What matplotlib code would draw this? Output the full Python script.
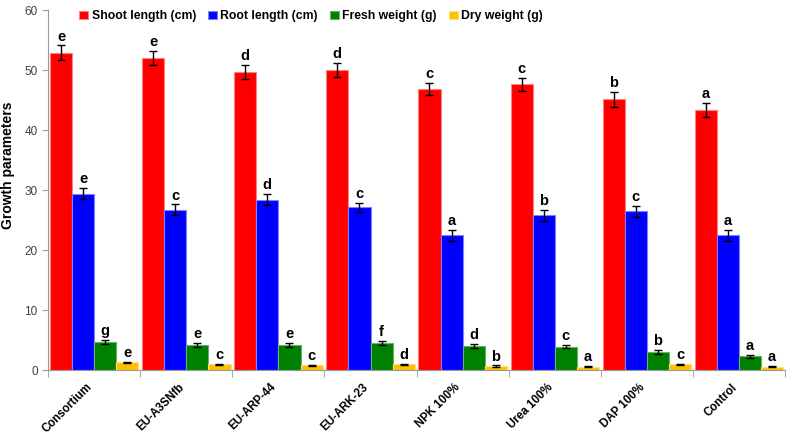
import numpy as np
import matplotlib
matplotlib.use("Agg")
import matplotlib.pyplot as plt
from matplotlib.transforms import ScaledTranslation

plt.rcParams['font.family'] = ['Liberation Sans', 'DejaVu Sans']

treatments = ["Consortium", "EU-A3SNfb", "EU-ARP-44", "EU-ARK-23",
              "NPK 100%", "Urea 100%", "DAP 100%", "Control"]
series = ["Shoot length (cm)", "Root length (cm)", "Fresh weight (g)", "Dry weight (g)"]

shoot = [52.9, 52.0, 49.7, 50.0, 46.8, 47.6, 45.1, 43.3]
root = [29.4, 26.7, 28.4, 27.1, 22.5, 25.8, 26.5, 22.5]
fresh = [4.7, 4.2, 4.2, 4.5, 4.05, 3.9, 3.05, 2.3]
dry = [1.3, 1.0, 0.8, 1.0, 0.7, 0.55, 1.0, 0.55]

shoot_err = [1.2, 1.2, 1.2, 1.2, 1.0, 1.1, 1.2, 1.2]
root_err = [0.9, 0.9, 0.9, 0.8, 0.9, 0.9, 0.9, 0.9]
fresh_err = [0.4, 0.3, 0.3, 0.35, 0.3, 0.25, 0.3, 0.25]
dry_err = [0.1, 0.1, 0.1, 0.1, 0.1, 0.1, 0.1, 0.1]

shoot_let = ["e", "e", "d", "d", "c", "c", "b", "a"]
root_let = ["e", "c", "d", "c", "a", "b", "c", "a"]
fresh_let = ["g", "e", "e", "f", "d", "c", "b", "a"]
dry_let = ["e", "c", "c", "d", "b", "a", "c", "a"]

colors = ["#ff0000", "#0000ff", "#008000", "#ffc000"]
edges = ["#ff8080", "#8080ff", "#66b366", "#ffe080"]

fig = plt.figure(figsize=(7.89, 4.37), dpi=100)
ax = fig.add_axes([0.061, 0.153, 0.934, 0.824])

x = np.arange(len(treatments))
w = 0.24
data = [shoot, root, fresh, dry]
errs = [shoot_err, root_err, fresh_err, dry_err]
lets = [shoot_let, root_let, fresh_let, dry_let]

for i in range(4):
    pos = x + (i - 1.5) * w
    ax.bar(pos, data[i], w, color=colors[i], edgecolor=edges[i], linewidth=0.8,
           label=series[i], zorder=2)
    ax.errorbar(pos, data[i], yerr=errs[i], fmt="none", ecolor="black",
                elinewidth=1, capsize=3, capthick=1, zorder=3)
    for p, v, e, l in zip(pos, data[i], errs[i], lets[i]):
        ax.text(p, v + e + 0.3, l, ha="center", va="bottom",
                fontsize=10.5, fontweight="bold", color="black")

ax.set_xlim(-0.5, len(treatments) - 0.5)
ax.set_ylim(0, 60)
ax.set_yticks(range(0, 61, 10))
ax.tick_params(axis="y", labelsize=8.5, labelcolor="#404040", color="#999999", length=4)
ax.set_ylabel("Growth parameters", fontsize=10, fontweight="bold")
ax.yaxis.set_label_coords(-0.045, 0.57)

ax.set_xticks(x)
ax.set_xticklabels(treatments, rotation=45, ha="right", va="center",
                   rotation_mode="anchor", fontsize=8.3, fontweight="bold")
ax.tick_params(axis="x", which="major", length=0, pad=11)
shift = ScaledTranslation(-4 / 100, 0, fig.dpi_scale_trans)
for lab in ax.get_xticklabels():
    lab.set_transform(lab.get_transform() + shift)
ax.set_xticks(np.arange(-0.5, len(treatments)), minor=True)
ax.tick_params(axis="x", which="minor", length=5, color="#999999")

for s in ["top", "right"]:
    ax.spines[s].set_visible(False)
for s in ["left", "bottom"]:
    ax.spines[s].set_color("#999999")

leg = ax.legend(loc="upper center", bbox_to_anchor=(0.357, 1.03), ncol=4, frameon=False,
                handlelength=0.7, handleheight=0.7, handletextpad=0.3, columnspacing=1.0,
                prop={"weight": "bold", "size": 8.8})

fig.savefig("out.png", dpi=100)
